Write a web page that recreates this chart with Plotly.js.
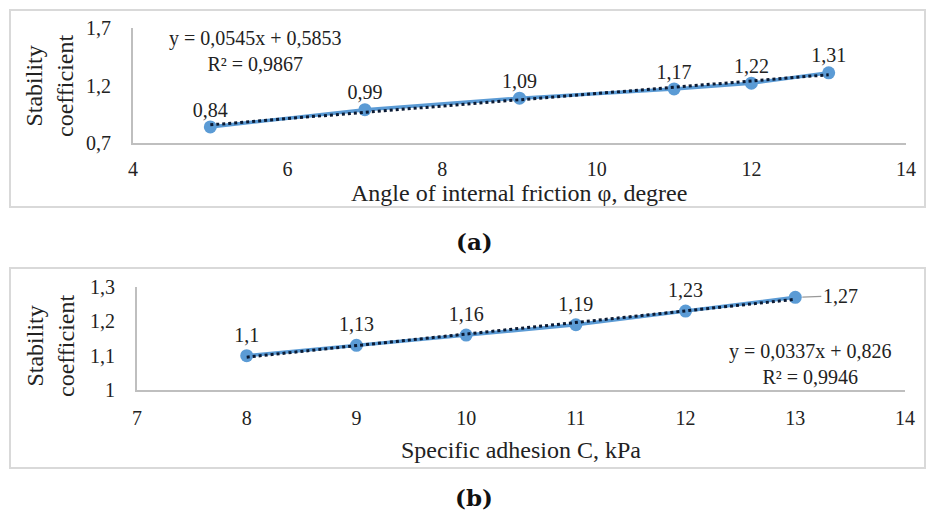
<!DOCTYPE html>
<html>
<head>
<meta charset="utf-8">
<script src="https://cdn.plot.ly/plotly-3.0.1.min.js"></script>
<style>html,body{margin:0;padding:0;background:#fff;}#chart{width:927px;height:517px;}</style>
</head>
<body>
<div id="chart"></div>
<script>
// Panel (a)
const angleX = [5, 7, 9, 11, 12, 13];
const angleY = [0.84, 0.99, 1.09, 1.17, 1.22, 1.31];
const angleSlope = 0.0545, angleIntercept = 0.5853;
const angleEq = ["y = 0,0545x + 0,5853", "R² = 0,9867"];
// Panel (b)
const adhX = [8, 9, 10, 11, 12, 13];
const adhY = [1.1, 1.13, 1.16, 1.19, 1.23, 1.27];
const adhSlope = 0.0337, adhIntercept = 0.826;
const adhEq = ["y = 0,0337x + 0,826", "R² = 0,9946"];

const yTitle = "Stability<br>coefficient";
const xTitleA = "Angle of internal friction φ, degree";
const xTitleB = "Specific adhesion C, kPa";

const W = 927, H = 517;
const px = v => v / W, py = v => 1 - v / H;
const FONT = "Liberation Serif, Times New Roman, serif";
const blue = "#5b9bd5";
const fmt = v => String(v).replace(".", ",");

const traces = [];
function addPanel(xs, ys, slope, icpt, xa, ya, labels, markerText) {
  traces.push({
    x: xs, y: ys, xaxis: xa, yaxis: ya, type: "scatter",
    mode: markerText ? "lines+markers+text" : "lines+markers",
    line: {color: blue, width: 3.5},
    marker: {color: blue, size: 13},
    text: labels, textposition: "top center",
    textfont: {family: FONT, size: 20, color: "#222"},
    cliponaxis: false, hoverinfo: "none"
  });
  const tx = [xs[0], xs[xs.length - 1]];
  traces.push({
    x: tx, y: tx.map(v => slope * v + icpt), xaxis: xa, yaxis: ya, type: "scatter",
    mode: "lines", line: {color: "#0b1a33", width: 3, dash: "dot"}, hoverinfo: "none"
  });
  if (!markerText) {
    traces.push({
      x: xs, y: ys, xaxis: xa, yaxis: ya, type: "scatter", mode: "markers+text",
      text: labels, textposition: "top center",
      textfont: {family: FONT, size: 20, color: "#222"},
      marker: {size: 7, color: "rgba(0,0,0,0)"}, cliponaxis: false, hoverinfo: "none"
    });
  }
}
addPanel(angleX, angleY, angleSlope, angleIntercept, "x", "y", angleY.map(fmt), false);
// last label in (b) is placed with a leader line instead
addPanel(adhX, adhY, adhSlope, adhIntercept, "x2", "y2",
  adhY.map((v, i) => i === adhY.length - 1 ? "" : fmt(v)), true);

const axisBase = {
  showgrid: false, zeroline: false, showline: true, linecolor: "#bfbfbf", linewidth: 2,
  ticks: "", tickfont: {family: FONT, size: 20, color: "#222"}, fixedrange: true
};

const ann = (x, y, text, size, extra) => Object.assign({
  xref: "paper", yref: "paper", x: px(x), y: py(y), text: text, showarrow: false,
  xanchor: "center", yanchor: "middle", align: "center",
  font: {family: FONT, size: size, color: "#222"}
}, extra || {});

const layout = {
  width: W, height: H, margin: {l: 0, r: 0, t: 0, b: 0},
  paper_bgcolor: "#fff", plot_bgcolor: "#fff", showlegend: false,
  separators: ",.",
  xaxis: Object.assign({}, axisBase, {domain: [px(133), px(906)], range: [4, 14], dtick: 2, tick0: 4, anchor: "y", ticklabelstandoff: 7}),
  yaxis: Object.assign({}, axisBase, {domain: [py(143), py(28)], range: [0.7, 1.7], dtick: 0.5, tick0: 0.7, anchor: "x", ticklabelstandoff: 16}),
  xaxis2: Object.assign({}, axisBase, {domain: [px(137), px(905)], range: [7, 14], dtick: 1, tick0: 7, anchor: "y2", ticklabelstandoff: 9}),
  yaxis2: Object.assign({}, axisBase, {domain: [py(390), py(287)], range: [1, 1.3], dtick: 0.1, tick0: 1, anchor: "x2", ticklabelstandoff: 16}),
  shapes: [
    {type: "rect", xref: "paper", yref: "paper", x0: px(10), x1: px(925), y0: py(207), y1: py(10), line: {color: "#d9d9d9", width: 2}},
    {type: "rect", xref: "paper", yref: "paper", x0: px(10), x1: px(925), y0: py(468), y1: py(268), line: {color: "#d9d9d9", width: 2}}
  ],
  annotations: [
    ann(50, 86, yTitle, 24, {textangle: -90}),
    ann(50, 346, yTitle, 24, {textangle: -90}),
    ann(519, 193, xTitleA, 24),
    ann(521, 450, xTitleB, 24),
    ann(255, 51, angleEq.join("<br>"), 20),
    ann(810, 364, adhEq.join("<br>"), 20),
    {xref: "x2", yref: "y2", x: adhX[adhX.length - 1], y: adhY[adhY.length - 1], text: fmt(adhY[adhY.length - 1]),
     showarrow: true, arrowhead: 0, arrowwidth: 1.2, arrowcolor: "#999", ax: 26, ay: -1, xanchor: "left", yanchor: "middle",
     standoff: 7, font: {family: FONT, size: 20, color: "#222"}},
    ann(474, 241, "<b>(a)</b>", 23, {font: {family: "DejaVu Serif, serif", size: 23, color: "#111"}}),
    ann(474, 497, "<b>(b)</b>", 23, {font: {family: "DejaVu Serif, serif", size: 23, color: "#111"}})
  ]
};

Plotly.newPlot("chart", traces, layout, {displayModeBar: false, staticPlot: true});
</script>
</body>
</html>
